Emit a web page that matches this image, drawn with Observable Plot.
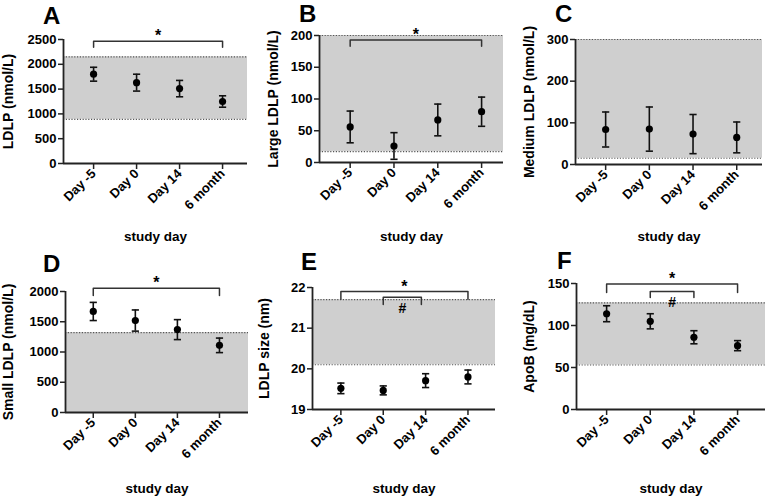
<!DOCTYPE html>
<html>
<head>
<meta charset="utf-8">
<script src="https://cdn.jsdelivr.net/npm/d3@7"></script>
<script src="https://cdn.jsdelivr.net/npm/@observablehq/plot@0.6"></script>
<style>
  html, body { margin: 0; padding: 0; background: #fff; }
  #root { position: relative; width: 768px; height: 502px; overflow: hidden; font-family: "Liberation Sans", Arial, sans-serif; }
  .panel { position: absolute; }
  .letter { position: absolute; font: bold 24px/24px "Liberation Sans", Arial, sans-serif; color: #000; }
</style>
</head>
<body>
<div id="root"></div>
<script>
// ---- data ----
const days = ["Day -5", "Day 0", "Day 14", "6 month"];
const letters = ["A", "B", "C", "D", "E", "F"];
const yLabels = ["LDLP (nmol/L)", "Large LDLP (nmol/L)", "Medium LDLP (nmol/L)", "Small LDLP (nmol/L)", "LDLP size (nm)", "ApoB (mg/dL)"];
const xLabel = "study day";

const meansA = [1800, 1630, 1510, 1250];
const errsA  = [140, 170, 165, 115];
const bandA  = [890, 2150];
const ticksA = [0, 500, 1000, 1500, 2000, 2500];

const meansB = [56, 26, 67, 80];
const errsB  = [25, 21, 25, 23];
const bandB  = [17, 200];
const ticksB = [0, 50, 100, 150, 200];

const meansC = [84, 85, 73, 65];
const errsC  = [42, 53, 47, 37];
const bandC  = [15, 300];
const ticksC = [0, 100, 200, 300];

const meansD = [1670, 1520, 1370, 1110];
const errsD  = [150, 175, 165, 120];
const bandD  = [0, 1320];
const ticksD = [0, 500, 1000, 1500, 2000];

const meansE = [19.52, 19.47, 19.71, 19.80];
const errsE  = [0.13, 0.11, 0.17, 0.17];
const bandE  = [20.1, 21.7];
const ticksE = [19, 20, 21, 22];

const meansF = [114, 105, 86, 76];
const errsF  = [9.5, 9, 7.8, 6];
const bandF  = [53, 127];
const ticksF = [0, 50, 100, 150];

// significance brackets: [from index, to index, top value, drop value, symbol]
const bracketsA = [[0, 3, 2465, 2345, "*"]];
const bracketsB = [[0, 3, 193, 183, "*"]];
const bracketsC = [];
const bracketsD = [[0, 3, 2055, 1934, "*"]];
const bracketsE = [[0, 3, 21.9, 21.71, "*"], [1, 1.9, 21.76, 21.58, "#"]];
const bracketsF = [[0, 3, 149.3, 139.3, "*"], [1, 2, 140.5, 133.4, "#"]];

// ---- layout (pixels, panel relative) ----
const layout = [
  {left: 0,   top: 0,   h: 240, L: 63, R: 247, T: 39, B: 163, xd: [-0.70, 3.58], yl: 8,  labY: 236},
  {left: 256, top: 0,   h: 240, L: 63, R: 247, T: 35, B: 162, xd: [-0.70, 3.50], yl: 17, labY: 236},
  {left: 512, top: 0,   h: 240, L: 63, R: 250, T: 39, B: 164, xd: [-0.69, 3.59], yl: 17, labY: 236},
  {left: 0,   top: 240, h: 262, L: 65, R: 248, T: 51, B: 172, xd: [-0.66, 3.69], yl: 8,  labY: 248},
  {left: 256, top: 240, h: 262, L: 56, R: 239, T: 47, B: 169, xd: [-0.67, 3.65], yl: 8,  labY: 248},
  {left: 512, top: 240, h: 262, L: 64, R: 253, T: 43, B: 169, xd: [-0.69, 3.64], yl: 17, labY: 248}
];
const letterPos = [[43, 4], [43, 2], [43, 2], [43, 12], [45, 10], [45, 9]];

const panels = [
  {means: meansA, errs: errsA, band: bandA, ticks: ticksA, brackets: bracketsA},
  {means: meansB, errs: errsB, band: bandB, ticks: ticksB, brackets: bracketsB},
  {means: meansC, errs: errsC, band: bandC, ticks: ticksC, brackets: bracketsC},
  {means: meansD, errs: errsD, band: bandD, ticks: ticksD, brackets: bracketsD},
  {means: meansE, errs: errsE, band: bandE, ticks: ticksE, brackets: bracketsE},
  {means: meansF, errs: errsF, band: bandF, ticks: ticksF, brackets: bracketsF}
];

const capSymbol = {
  draw(context, size) {
    const w = Math.sqrt(size / Math.PI);
    context.moveTo(-w, 0);
    context.lineTo(w, 0);
  }
};

const root = document.getElementById("root");

panels.forEach((p, k) => {
  const lay = layout[k];
  const yDom = [p.ticks[0], p.ticks[p.ticks.length - 1]];
  const rows = p.means.map((m, i) => ({i, mean: m, lo: m - p.errs[i], hi: m + p.errs[i]}));
  const caps = rows.flatMap(d => [{i: d.i, v: d.lo}, {i: d.i, v: d.hi}]);
  const bracketLines = p.brackets.map(b => [
    {x: b[0], y: b[3]}, {x: b[0], y: b[2]}, {x: b[1], y: b[2]}, {x: b[1], y: b[3]}
  ]);
  const bracketLabels = p.brackets.map(b => ({x: (b[0] + b[1]) / 2, y: b[2], s: b[4]}));

  const marks = [
    Plot.rect([p.band], {x1: () => lay.xd[0], x2: () => lay.xd[1], y1: d => d[0], y2: d => d[1], fill: "#cfcfcf"}),
    Plot.ruleY(p.band, {stroke: "#555", strokeWidth: 1.2, strokeDasharray: "1.2,1.6"}),
    Plot.ruleX([lay.xd[0]], {y1: yDom[0], y2: yDom[1], stroke: "#222", strokeWidth: 1.8}),
    Plot.ruleY([yDom[0]], {x1: lay.xd[0], x2: lay.xd[1], stroke: "#222", strokeWidth: 1.8}),
    Plot.axisY({ticks: p.ticks, tickFormat: d => String(d), tickSize: 5, tickPadding: 2, strokeWidth: 1.5, stroke: "#222", fontSize: 13, fontWeight: "bold", label: null}),
    Plot.axisX({ticks: [0, 1, 2, 3], tickFormat: i => days[i], tickRotate: -45, tickSize: 6, tickPadding: 2, strokeWidth: 1.5, stroke: "#222", fontSize: 13, fontWeight: "bold", label: null}),
    Plot.ruleX(rows, {x: "i", y1: "lo", y2: "hi", stroke: "#111", strokeWidth: 1.6}),
    Plot.dot(caps, {x: "i", y: "v", r: 3.6, symbol: capSymbol, stroke: "#111", strokeWidth: 1.6, fill: "none"}),
    Plot.dot(rows, {x: "i", y: "mean", r: 3.6, fill: "#000", stroke: "none"}),
    ...bracketLines.map(l => Plot.line(l, {x: "x", y: "y", stroke: "#333", strokeWidth: 1.5})),
    Plot.text(bracketLabels.filter(d => d.s === "*"), {x: "x", y: "y", text: "s", fontSize: 16, fontWeight: "bold", dy: -5, lineAnchor: "middle"}),
    Plot.text(bracketLabels.filter(d => d.s === "#"), {x: "x", y: "y", text: "s", fontSize: 14, fontWeight: "bold", dy: 11, lineAnchor: "middle"}),
    Plot.text([yLabels[k]], {frameAnchor: "left", rotate: -90, dx: -(lay.L - lay.yl), fontSize: 14, fontWeight: "bold", textAnchor: "middle", lineAnchor: "middle", text: d => d}),
    Plot.text([xLabel], {frameAnchor: "bottom", dy: lay.labY - lay.B, fontSize: 13.5, fontWeight: "bold", textAnchor: "middle", lineAnchor: "middle", text: d => d})
  ];

  const chart = Plot.plot({
    width: 256,
    height: lay.h,
    marginLeft: lay.L,
    marginRight: 256 - lay.R,
    marginTop: lay.T,
    marginBottom: lay.h - lay.B,
    x: {type: "linear", domain: lay.xd},
    y: {type: "linear", domain: yDom},
    style: {fontFamily: "'Liberation Sans', Arial, sans-serif", fontSize: "13px", fontWeight: "bold", color: "#000", background: "transparent", overflow: "visible"},
    marks
  });
  const div = document.createElement("div");
  div.className = "panel";
  div.style.left = lay.left + "px";
  div.style.top = lay.top + "px";
  div.appendChild(chart);
  root.appendChild(div);

  const lt = document.createElement("div");
  lt.className = "letter";
  lt.textContent = letters[k];
  lt.style.left = (lay.left + letterPos[k][0]) + "px";
  lt.style.top = (lay.top + letterPos[k][1]) + "px";
  root.appendChild(lt);
});
</script>
</body>
</html>
